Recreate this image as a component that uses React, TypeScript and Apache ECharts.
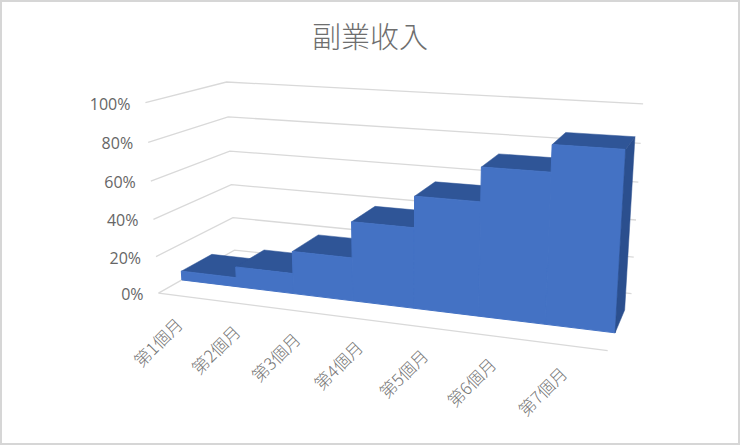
import React, { useEffect, useRef } from "react";
import * as echarts from "echarts";

const titleText = "副業收入";
const categories = ["第1個月", "第2個月", "第3個月", "第4個月", "第5個月", "第6個月", "第7個月"];
const incomeShare = [5, 11, 23, 42, 58, 75, 88];
const valueTicks = [0, 20, 40, 60, 80, 100];

// camera calibration of the 3D plot box: [u, v, w] (u along months, v along value, w into depth) -> screen
const calibration: number[][] = [
  [0, 0, 0, 158, 293], [0, 0.2, 0, 156, 257], [0, 0.4, 0, 153, 219], [0, 0.6, 0, 151, 181], [0, 0.8, 0, 148, 143], [0, 1, 0, 145, 103],
  [0, 0, 1, 233, 250], [0, 0.2, 1, 233, 218], [0, 0.4, 1, 232, 185], [0, 0.6, 1, 230, 151], [0, 0.8, 1, 228, 117], [0, 1, 1, 227, 82],
  [1, 0, 1, 632, 294], [1, 0.2, 1, 633, 258], [1, 0.4, 1, 636, 220], [1, 0.6, 1, 638, 182], [1, 0.8, 1, 641, 143], [1, 1, 1, 643, 103],
  [1, 0, 0, 607, 352],
  [0, 0, 0.28, 183, 279], [3 / 7, 0, 0.28, 352, 300], [5 / 7, 0, 0.28, 482, 316], [1, 0, 0.28, 614, 332],
];
const frontDepth = 0.28;
const backDepth = 0.68;

function solveCamera(points: number[][]): number[] {
  const n = 11;
  const A: number[][] = Array.from({ length: n }, () => new Array(n + 1).fill(0));
  const add = (row: number[], rhs: number) => {
    for (let i = 0; i < n; i++) {
      for (let j = 0; j < n; j++) A[i][j] += row[i] * row[j];
      A[i][n] += row[i] * rhs;
    }
  };
  for (const [X, Y, Z, x, y] of points) {
    const sx = x / 400;
    const sy = y / 400;
    add([X, Y, Z, 1, 0, 0, 0, 0, -sx * X, -sx * Y, -sx * Z], sx);
    add([0, 0, 0, 0, X, Y, Z, 1, -sy * X, -sy * Y, -sy * Z], sy);
  }
  for (let c = 0; c < n; c++) {
    let piv = c;
    for (let r = c + 1; r < n; r++) if (Math.abs(A[r][c]) > Math.abs(A[piv][c])) piv = r;
    [A[c], A[piv]] = [A[piv], A[c]];
    for (let r = 0; r < n; r++) {
      if (r === c) continue;
      const f = A[r][c] / A[c][c];
      for (let k = c; k <= n; k++) A[r][k] -= f * A[c][k];
    }
  }
  return A.map((row, i) => row[n] / row[i]);
}

const cam = solveCamera(calibration);
const project = (u: number, v: number, w: number): number[] => {
  const d = cam[8] * u + cam[9] * v + cam[10] * w + 1;
  return [
    (400 * (cam[0] * u + cam[1] * v + cam[2] * w + cam[3])) / d,
    (400 * (cam[4] * u + cam[5] * v + cam[6] * w + cam[7])) / d,
  ];
};

const FRONT = "#4472c4";
const TOP = "#2f5597";
const SIDE = "#2b4f8e";
const GRID = "#d9d9d9";
const LABEL = "#666666";

export default function App() {
  const ref = useRef<HTMLDivElement>(null);
  useEffect(() => {
    document.body.style.margin = "0";
    const chart = echarts.init(ref.current!, null, { renderer: "svg" });
    const W = 740;
    const H = 445;
    // data -> unit box through the hidden cartesian axes
    const toBox = (api: any, x: number, y: number) => {
      const p = api.coord([x, y]);
      return [p[0] / W, 1 - p[1] / H];
    };
    chart.setOption({
      animation: false,
      backgroundColor: "#ffffff",
      title: {
        text: titleText,
        left: "center",
        top: 15,
        textStyle: { fontFamily: "Noto Sans CJK TC", fontSize: 29, fontWeight: 300, color: "#6e6e6e" },
      },
      grid: { left: 0, right: 0, top: 0, bottom: 0 },
      xAxis: { type: "value", min: 0, max: categories.length, show: false },
      yAxis: { type: "value", min: 0, max: 100, show: false },
      graphic: [
        {
          type: "rect",
          shape: { x: 1, y: 1, width: 738, height: 443 },
          style: { fill: "none", stroke: "#d6d6d6", lineWidth: 2 },
          silent: true,
        },
      ],
      series: [
        {
          type: "custom",
          name: "grid",
          coordinateSystem: "cartesian2d",
          silent: true,
          z: 1,
          data: valueTicks.map((t) => [0, t]),
          renderItem: (_: any, api: any) => {
            const t = api.value(1);
            const [, v] = toBox(api, 0, t);
            const children: any[] = [
              {
                type: "polyline",
                shape: { points: [project(0, v, 0), project(0, v, 1), project(1, v, 1)] },
                style: { fill: "none", stroke: GRID, lineWidth: 1.3 },
              },
              {
                type: "text",
                x: project(0, v, 0)[0] - 15,
                y: project(0, v, 0)[1] + 1,
                style: {
                  text: t + "%",
                  align: "right",
                  verticalAlign: "middle",
                  fontFamily: "Open Sans",
                  fontSize: 16,
                  fill: LABEL,
                },
              },
            ];
            if (t === 0) {
              children.push({
                type: "line",
                shape: { x1: project(0, 0, 0)[0], y1: project(0, 0, 0)[1], x2: project(1, 0, 0)[0], y2: project(1, 0, 0)[1] },
                style: { stroke: GRID, lineWidth: 1.3 },
              });
            }
            return { type: "group", children };
          },
        },
        {
          type: "custom",
          name: "months",
          coordinateSystem: "cartesian2d",
          silent: true,
          z: 1,
          data: categories.map((c, i) => [i, 0, c]),
          renderItem: (_: any, api: any) => {
            const i = api.value(0);
            const [u] = toBox(api, i + 0.5, 0);
            const p = project(u, 0, 0);
            return {
              type: "text",
              x: p[0] - 29,
              y: p[1] + 45,
              rotation: Math.PI / 4,
              style: {
                text: categories[i],
                align: "center",
                verticalAlign: "middle",
                fontFamily: "Noto Sans CJK TC",
                fontSize: 17,
                fontWeight: 300,
                fill: "#767676",
              },
            };
          },
        },
        {
          type: "custom",
          name: "副業收入",
          coordinateSystem: "cartesian2d",
          silent: true,
          z: 2,
          data: incomeShare.map((v, i) => [i, v]),
          renderItem: (params: any, api: any) => {
            const i = api.value(0);
            const val = api.value(1);
            const [u0, v] = toBox(api, i, val);
            const [u1] = toBox(api, i + 1, val);
            const f = frontDepth;
            const b = backDepth;
            const poly = (pts: number[][], color: string, lw: number) => ({
              type: "polygon",
              shape: { points: pts },
              style: { fill: color, stroke: color, lineWidth: lw },
            });
            const children: any[] = [
              poly([project(u0, v, f), project(u1, v, f), project(u1, v, b), project(u0, v, b)], TOP, 0.5),
              poly([project(u0, 0, f), project(u0, v, f), project(u1, v, f), project(u1, 0, f)], FRONT, 1),
            ];
            if (params.dataIndex === incomeShare.length - 1) {
              children.push(
                poly([project(u1, 0, f), project(u1, v, f), project(u1, v, b), project(u1, 0, b)], SIDE, 0.5)
              );
            }
            return { type: "group", children };
          },
        },
      ],
    });
    return () => chart.dispose();
  }, []);
  return <div ref={ref} style={{ position: "fixed", left: 0, top: 0, width: 740, height: 445 }} />;
}
